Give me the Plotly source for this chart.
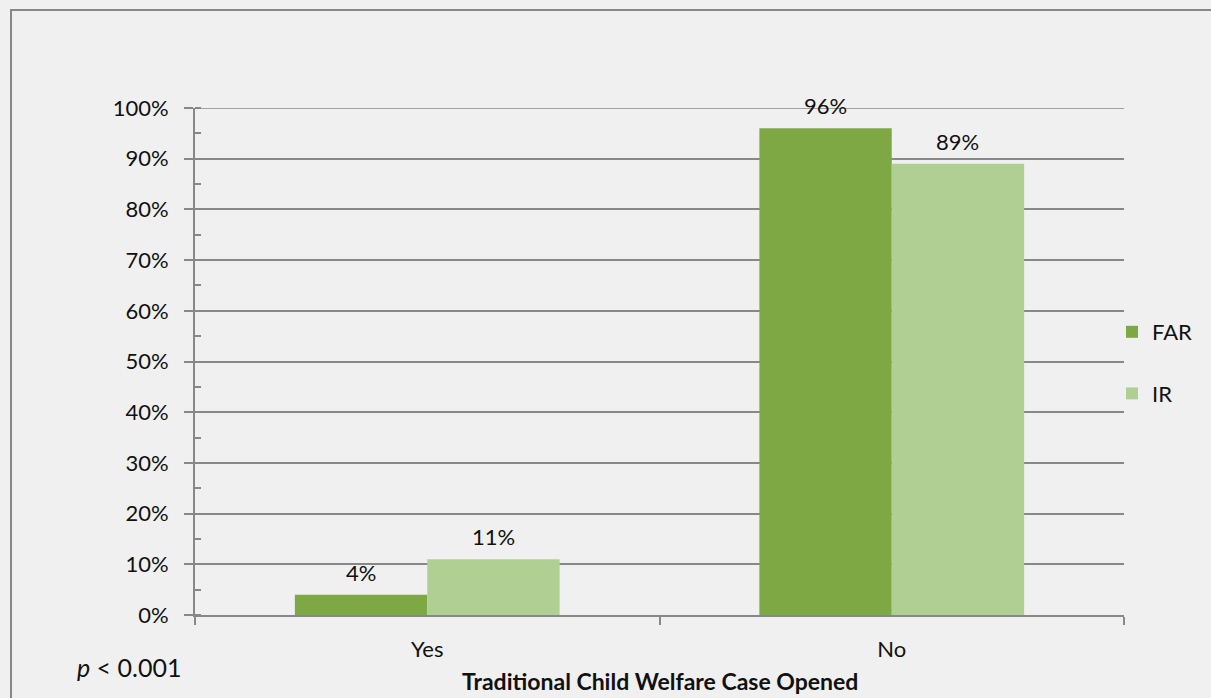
import plotly.graph_objects as go

categories = ["Yes", "No"]
far_values = [4, 96]
ir_values = [11, 89]
series_names = ["FAR", "IR"]
y_ticks = list(range(0, 101, 10))
y_tick_labels = [f"{v}%" for v in y_ticks]

FAR_COLOR = "#7EA843"
IR_COLOR = "#B0D093"
GRID = "#888888"
BG = "#F0F0F0"
FONT = "Lato"
TXT = "#111111"
FS = 22

W, H = 1211, 698
L, R, T, B = 195, 87, 108, 83
BARGAP = 0.43

fig = go.Figure()
for name, vals, col, grp in ((series_names[0], far_values, FAR_COLOR, "a"),
                             (series_names[1], ir_values, IR_COLOR, "b")):
    fig.add_trace(go.Bar(x=categories, y=vals, name=name,
                         marker=dict(color=col, line=dict(width=0)),
                         showlegend=False, legendgroup=grp))
    fig.add_trace(go.Scatter(x=[None], y=[None], name=name, mode="markers",
                             marker=dict(symbol="square", size=16, color=col),
                             legendgroup=grp, showlegend=True))

# data labels
bw = (1 - BARGAP) / 2
annotations = []
for i, cat in enumerate(categories):
    for vals, off in ((far_values, -bw / 2), (ir_values, bw / 2)):
        annotations.append(dict(x=i + off, y=vals[i], xref="x", yref="y",
                                text=f"{vals[i]}%", showarrow=False,
                                yanchor="bottom", yshift=7,
                                font=dict(family=FONT, size=FS, color=TXT)))

pw, ph = W - L - R, H - T - B
annotations.append(dict(x=(75 - L) / pw, y=(615 - 667) / ph, xref="paper", yref="paper",
                        text="<i>p</i> < 0.001", showarrow=False, xanchor="left",
                        yanchor="middle", font=dict(family=FONT, size=25, color=TXT)))
annotations.append(dict(x=0.5, y=(615 - 697) / ph, xref="paper", yref="paper",
                        text="<b>Traditional Child Welfare Case Opened</b>", showarrow=False,
                        xanchor="center", yanchor="bottom",
                        font=dict(family=FONT, size=23, color=TXT)))

shapes = [dict(type="rect", xref="paper", yref="paper",
               x0=(11 - L) / pw, x1=(W + 10 - L) / pw,
               y0=(615 - (H + 10)) / ph, y1=(615 - 10) / ph,
               line=dict(color="#888888", width=2), fillcolor="rgba(0,0,0,0)",
               layer="below"),
          dict(type="line", xref="paper", yref="y", x0=0, x1=1,
               y0=y_ticks[-1], y1=y_ticks[-1],
               line=dict(color=GRID, width=1.5), layer="below")]

fig.update_layout(
    width=W, height=H, autosize=False,
    margin=dict(l=L, r=R, t=T, b=B, pad=0),
    paper_bgcolor=BG, plot_bgcolor=BG,
    barmode="group", bargap=BARGAP, bargroupgap=0,
    font=dict(family=FONT, size=FS, color=TXT),
    showlegend=True,
    legend=dict(x=1.0 - 12 / pw, xanchor="left", y=(615 - 311) / ph, yanchor="top",
                bgcolor="rgba(0,0,0,0)", font=dict(family=FONT, size=FS, color=TXT),
                tracegroupgap=30, traceorder="grouped", itemwidth=30,
                itemsizing="constant"),
    annotations=annotations,
    shapes=shapes,
)
fig.update_yaxes(range=[0, 100], tickvals=y_ticks, ticktext=y_tick_labels,
                 showgrid=True, gridcolor=GRID, gridwidth=1.5,
                 showline=True, linecolor=GRID, linewidth=2,
                 ticks="outside", ticklen=9, tickcolor=GRID, tickwidth=2,
                 ticklabelstandoff=11, zeroline=False,
                 minor=dict(dtick=5, tick0=0, ticks="inside", ticklen=6,
                            tickcolor=GRID, tickwidth=2, showgrid=False),
                 tickfont=dict(family=FONT, size=FS, color=TXT))
fig.update_xaxes(showline=True, linecolor=GRID, linewidth=2,
                 ticks="outside", tickson="boundaries", ticklen=8,
                 tickcolor=GRID, tickwidth=2, ticklabelstandoff=14,
                 tickfont=dict(family=FONT, size=FS, color=TXT), showgrid=False)

fig.write_html("out.html")
